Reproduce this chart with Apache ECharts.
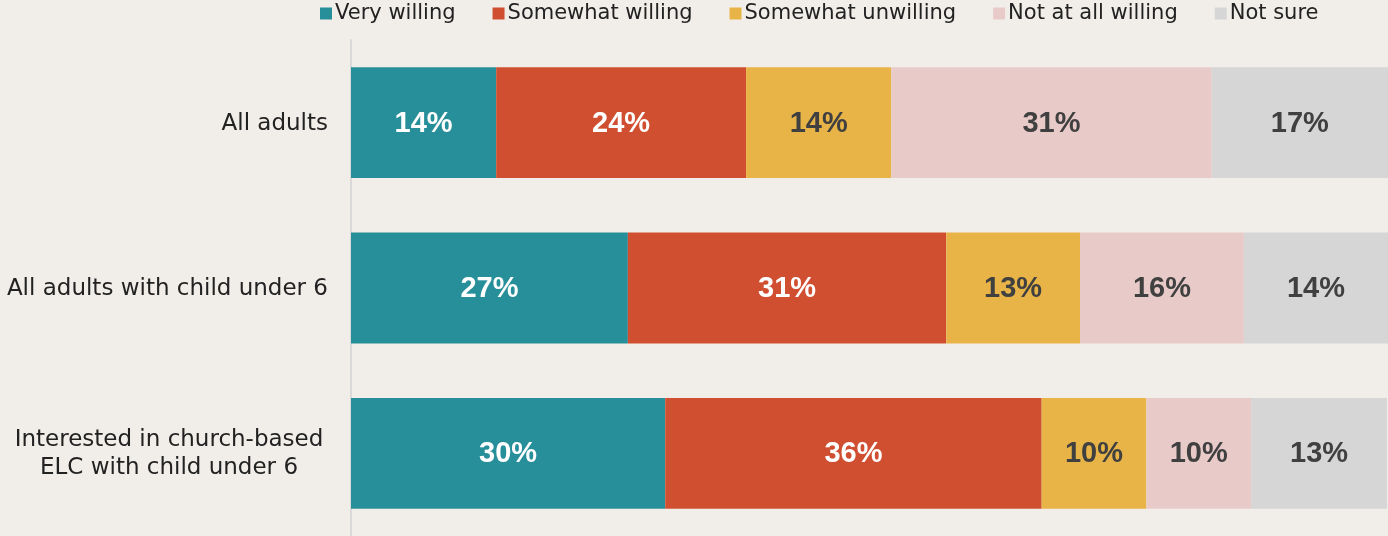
<!DOCTYPE html>
<html>
<head>
<meta charset="utf-8">
<script src="https://cdn.jsdelivr.net/npm/echarts@6/dist/echarts.min.js"></script>
<style>
  html, body { margin: 0; padding: 0; background: #F1EEE9; }
  #chart { width: 1388px; height: 536px; }
</style>
</head>
<body>
<div id="chart"></div>
<script>
// categories, top to bottom
var groups = ['All adults', 'All adults with child under 6', 'Interested in church-based\nELC with child under 6'];
var seriesNames = ['Very willing', 'Somewhat willing', 'Somewhat unwilling', 'Not at all willing', 'Not sure'];

// shares (%) per group
var veryWilling = [14.0, 26.7, 30.3];
var somewhatWilling = [24.1, 30.7, 36.3];
var somewhatUnwilling = [14.0, 12.9, 10.1];
var notAtAll = [30.9, 15.8, 10.1];
var notSure = [17.0, 13.9, 13.1];

// printed labels
var labelVery = [14, 27, 30];
var labelSomewhat = [24, 31, 36];
var labelUnwilling = [14, 13, 10];
var labelNotAtAll = [31, 16, 10];
var labelNotSure = [17, 14, 13];

var colors = ['#278F99', '#D14F31', '#E8B447', '#E8CBC8', '#D6D6D6'];
var labelColors = ['#ffffff', '#ffffff', '#404040', '#404040', '#404040'];

var values = [veryWilling, somewhatWilling, somewhatUnwilling, notAtAll, notSure];
var labels = [labelVery, labelSomewhat, labelUnwilling, labelNotAtAll, labelNotSure];

var chart = echarts.init(document.getElementById('chart'));

var series = seriesNames.map(function (name, i) {
  return {
    name: name,
    type: 'bar',
    stack: 'total',
    barCategoryGap: '33%',
    itemStyle: { color: colors[i] },
    label: {
      show: true,
      position: 'inside',
      offset: [0, 1],
      color: labelColors[i],
      fontFamily: '"Liberation Sans Narrow", "Liberation Sans", Arial, sans-serif',
      fontWeight: 'bold',
      fontSize: 29,
      formatter: function (p) {
        return labels[i][p.dataIndex] + '%';
      }
    },
    emphasis: { disabled: true },
    data: values[i]
  };
});

var option = {
  backgroundColor: '#F1EEE9',
  animation: false,
  legend: {
    data: seriesNames,
    top: 3,
    left: 320,
    padding: 0,
    icon: 'rect',
    itemWidth: 12,
    itemHeight: 12,
    itemGap: 37,
    textStyle: {
      fontFamily: '"DejaVu Sans", sans-serif',
      fontSize: 21,
      color: '#222',
      padding: [0, 0, 0, -2]
    }
  },
  grid: {
    left: 351,
    right: 0,
    top: 40,
    bottom: -2,
    containLabel: false
  },
  xAxis: {
    type: 'value',
    min: 0,
    max: 100,
    show: false
  },
  yAxis: {
    type: 'category',
    inverse: true,
    data: groups,
    axisLine: { show: true, lineStyle: { color: '#D9D9D9', width: 2 } },
    axisTick: { show: false },
    axisLabel: {
      margin: 23,
      fontFamily: '"DejaVu Sans", sans-serif',
      fontSize: 23,
      color: '#222',
      lineHeight: 28,
      padding: [2, 0, 0, 0],
      formatter: function (v) {
        if (v.indexOf('\n') >= 0) {
          return v.split('\n').map(function (s) { return '{c|' + s + '}'; }).join('\n');
        }
        return v;
      },
      rich: {
        c: {
          width: 318,
          align: 'center',
          fontFamily: '"DejaVu Sans", sans-serif',
          fontSize: 23,
          color: '#222',
          lineHeight: 28
        }
      }
    }
  },
  series: series
};

chart.setOption(option);
</script>
</body>
</html>
